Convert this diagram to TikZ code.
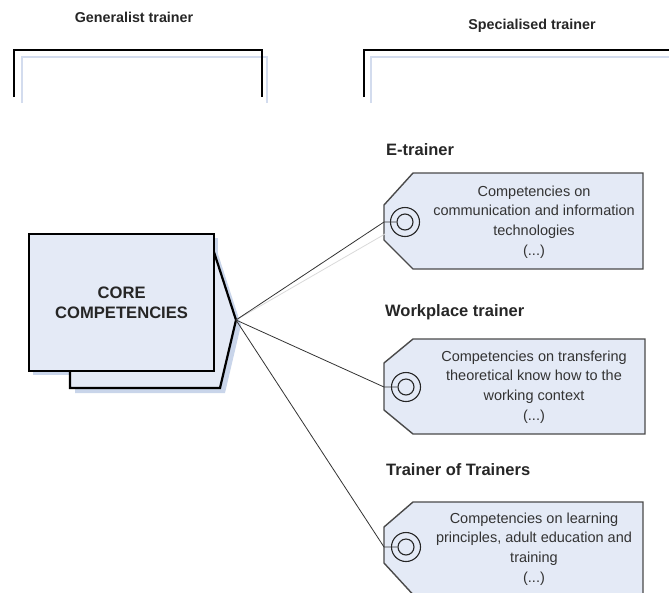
\documentclass[tikz,border=0pt]{standalone}
\usepackage{fontspec}
\setmainfont{Liberation Sans}
\definecolor{tagfill}{HTML}{E4EAF6}
\definecolor{shadowblue}{HTML}{C9D5EA}
\definecolor{brackblue}{HTML}{D3DCEE}
\definecolor{tagborder}{HTML}{4A4A4A}
\definecolor{txt}{HTML}{333333}
\begin{document}
\begin{tikzpicture}[x=1pt,y=-1pt,
  head/.style={font=\bfseries\fontsize{14.3}{17}\selectfont, text=black!85, inner sep=0},
  rolehead/.style={font=\bfseries\fontsize{16.5}{19}\selectfont, text=black!85, anchor=west, inner sep=0},
  tagtext/.style={font=\fontsize{14.5}{19.6}\selectfont, text=txt, align=center, inner sep=0},
  corebox/.style={fill=tagfill, draw=black, line width=2.2pt},
  shadowshape/.style={fill=shadowblue, draw=none},
  tagshape/.style={fill=tagfill, draw=tagborder, line width=1.4pt},
  bracketblack/.style={draw=black, line width=2.2pt},
  bracketblue/.style={draw=brackblue, line width=2pt},
  conn/.style={draw=black!80, line width=0.8pt},
  connshadow/.style={draw=black!15, line width=0.8pt},
  ring/.style={draw=black!85, line width=1.1pt}]
\useasboundingbox (0,0) rectangle (669,592);
\clip (0,0) rectangle (669,592);

% headers and brackets
\node[head] (gen) at (134,17) {Generalist trainer};
\node[head] (spec) at (532,26) {Specialised trainer};
\draw[bracketblue] (22,103) -- (22,57) -- (267,57) -- (267,103);
\draw[bracketblack] (14,97) -- (14,50) -- (262,50) -- (262,97);
\draw[bracketblue] (371,103) -- (371,57) -- (675,57);
\draw[bracketblack] (364,97) -- (364,50) -- (675,50);

% core competencies
\fill[shadowblue] (75,375) -- (75,393) -- (225,393) -- (241,325) -- (218,254) -- cycle;
\fill[shadowblue] (33,238) rectangle (218,375);
\fill[tagfill] (71,371) -- (71,387) -- (219,387) -- (235,320) -- (213,250) -- (213,371) -- cycle;
\draw[black, line width=2.2pt, line join=miter] (70,370) -- (70,388) -- (220,388) -- (236,320) -- (213,249);
\node[corebox, minimum width=185pt, minimum height=137pt, inner sep=0, anchor=north west,
  font=\bfseries\fontsize{16.6}{20}\selectfont, text=black!85, align=center] (core) at (28,233) {CORE\\COMPETENCIES};
\coordinate (tip) at (236,320);

% tags
\path[tagshape] (413,173) -- (643,173) -- (643,269) -- (413,269) -- (384,240) -- (384,205) -- cycle;
\path[tagshape] (413,339) -- (645,339) -- (645,434) -- (413,434) -- (384,410) -- (384,363) -- cycle;
\path[tagshape] (413,502) -- (643,502) -- (643,600) -- (418,600) -- (384,563) -- (384,527) -- cycle;

% rings
\node[ring, circle, minimum size=29pt, inner sep=0] (r1o) at (405,222) {};
\node[ring, circle, minimum size=16pt, inner sep=0] (r1) at (405,222) {};
\node[ring, circle, minimum size=29pt, inner sep=0] (r2o) at (406,387) {};
\node[ring, circle, minimum size=16pt, inner sep=0] (r2) at (406,387) {};
\node[ring, circle, minimum size=29pt, inner sep=0] (r3o) at (406,547) {};
\node[ring, circle, minimum size=16pt, inner sep=0] (r3) at (406,547) {};
\coordinate (e1) at (384,222);
\coordinate (e2) at (384,387);
\coordinate (e3) at (384,547);
\coordinate (s1) at (385,234);

% connectors
\draw[connshadow] (tip) -- (s1);
\draw[conn] (tip) -- (e1) -- (r1.west);
\draw[conn] (tip) -- (e2) -- (r2.west);
\draw[conn] (tip) -- (e3) -- (r3.west);

% tag texts
\node[tagtext] (t1) at (534,222) {Competencies on\\communication and information\\technologies\\(...)};
\node[tagtext] (t2) at (534,387) {Competencies on transfering\\theoretical know how to the\\working context\\(...)};
\node[tagtext] (t3) at (534,549) {Competencies on learning\\principles, adult education and\\training\\(...)};

% role headers
\node[rolehead] (h1) at (386,150) {E-trainer};
\node[rolehead] (h2) at (385,312) {Workplace trainer};
\node[rolehead] (h3) at (386,470) {Trainer of Trainers};
\end{tikzpicture}
\end{document}
